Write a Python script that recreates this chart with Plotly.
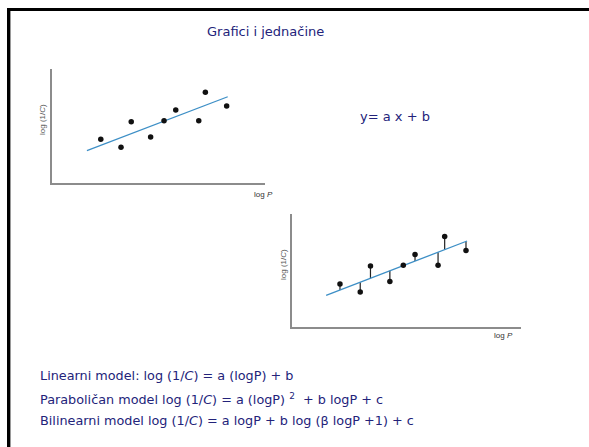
import numpy as np
import plotly.graph_objects as go

# ---- data ----
log_p = [2.29, 3.24, 3.72, 4.63, 5.26, 5.81, 6.89, 7.20, 8.20]
log_inv_c = [2.30, 1.88, 3.23, 2.42, 3.28, 3.84, 3.28, 4.77, 4.05]
fit_x = [1.64, 8.25]
fit_y = [1.70, 4.54]

title_text = "Grafici i jednačine"
equation_text = "y= a x + b"
model_lines = [
    "Linearni model: log (1/<i>C</i>) = a (logP) + b",
    "Paraboličan model log (1/<i>C</i>) = a (logP) <sup>2</sup>  + b logP + c",
    "Bilinearni model log (1/<i>C</i>) = a logP + b log (β logP +1) + c",
]
y_label = "log (1/<i>C</i>)"
x_label = "log <i>P</i>"

W, H = 589, 447
TEXT = "#23237a"
AXIS = "#8c8c8c"
FIT = "#3d8fc6"
FONT = "DejaVu Sans, sans-serif"


def px(x):
    return x / W


def py(y):
    return 1 - y / H


fig = go.Figure()

# ---- plot 1: scatter + fit ----
fig.add_trace(go.Scatter(x=fit_x, y=fit_y, mode="lines",
                         line=dict(color=FIT, width=1.3),
                         xaxis="x", yaxis="y", hoverinfo="skip"))
fig.add_trace(go.Scatter(x=log_p, y=log_inv_c, mode="markers",
                         marker=dict(color="#111111", size=5.5),
                         xaxis="x", yaxis="y"))

# ---- plot 2: scatter + fit + residual stems ----
fit_at = np.interp(log_p, fit_x, fit_y)
stem_x, stem_y = [], []
for xv, yv, fv in zip(log_p, log_inv_c, fit_at):
    stem_x += [xv, xv, None]
    stem_y += [yv, fv, None]
fig.add_trace(go.Scatter(x=stem_x, y=stem_y, mode="lines",
                         line=dict(color="#222222", width=1.2),
                         xaxis="x2", yaxis="y2", hoverinfo="skip"))
fig.add_trace(go.Scatter(x=fit_x, y=fit_y, mode="lines",
                         line=dict(color=FIT, width=1.3),
                         xaxis="x2", yaxis="y2", hoverinfo="skip"))
fig.add_trace(go.Scatter(x=log_p, y=log_inv_c, mode="markers",
                         marker=dict(color="#111111", size=5.5),
                         xaxis="x2", yaxis="y2"))

axis_common = dict(showgrid=False, zeroline=False, showticklabels=False,
                   ticks="", showline=True, linecolor=AXIS, linewidth=2,
                   fixedrange=True)

fig.update_layout(
    width=W, height=H,
    margin=dict(l=0, r=0, t=0, b=0),
    paper_bgcolor="white", plot_bgcolor="white",
    showlegend=False,
    xaxis=dict(domain=[px(52), px(265)], range=[0, 10], anchor="y", **axis_common),
    yaxis=dict(domain=[py(183), py(69)], range=[0, 6], anchor="x", **axis_common),
    xaxis2=dict(domain=[px(292), px(521)], range=[0.04, 10.78], anchor="y2", **axis_common),
    yaxis2=dict(domain=[py(327), py(214)], range=[0.05, 5.95], anchor="x2", **axis_common),
)

# slide frame (top and left edges)
shapes = [
    dict(type="rect", xref="paper", yref="paper", x0=px(7), x1=1, y0=py(11), y1=py(8),
         fillcolor="black", line=dict(width=0), layer="above"),
    dict(type="rect", xref="paper", yref="paper", x0=px(7), x1=px(10), y0=0, y1=py(8),
         fillcolor="black", line=dict(width=0), layer="above"),
    dict(type="line", xref="paper", yref="paper", x0=px(10.5), x1=px(10.5), y0=0, y1=py(11),
         line=dict(color="#9a9a9a", width=1)),
]
fig.update_layout(shapes=shapes)

ann = []
ann.append(dict(text=title_text, x=px(265), y=py(31), xref="paper", yref="paper",
                xanchor="center", yanchor="middle",
                showarrow=False, font=dict(family=FONT, size=13, color=TEXT)))
ann.append(dict(text=equation_text, x=px(358), y=py(117), xref="paper", yref="paper",
                xanchor="left", yanchor="middle",
                showarrow=False, font=dict(family=FONT, size=13, color=TEXT)))
for i, (t, yy) in enumerate(zip(model_lines, [375, 399, 420])):
    ann.append(dict(text=t, x=px(38), y=py(yy), xref="paper", yref="paper",
                    xanchor="left", yanchor="middle", showarrow=False,
                    font=dict(family=FONT, size=12.8, color=TEXT)))
# axis labels
for (lx, ly) in [(42, 120), (283, 265)]:
    ann.append(dict(text=y_label, x=px(lx), y=py(ly), xref="paper", yref="paper",
                    xanchor="center", yanchor="middle",
                    textangle=-90, showarrow=False,
                    font=dict(family="Liberation Sans, Arial", size=8, color="#555555")))
for (lx, ly) in [(263, 194), (503, 335)]:
    ann.append(dict(text=x_label, x=px(lx), y=py(ly), xref="paper", yref="paper",
                    xanchor="center", yanchor="middle",
                    showarrow=False,
                    font=dict(family="Liberation Sans, Arial", size=8, color="#333333")))
fig.update_layout(annotations=ann)

fig.write_html("out.html", config={"displayModeBar": False},
               post_script="document.body.style.margin='0';")
